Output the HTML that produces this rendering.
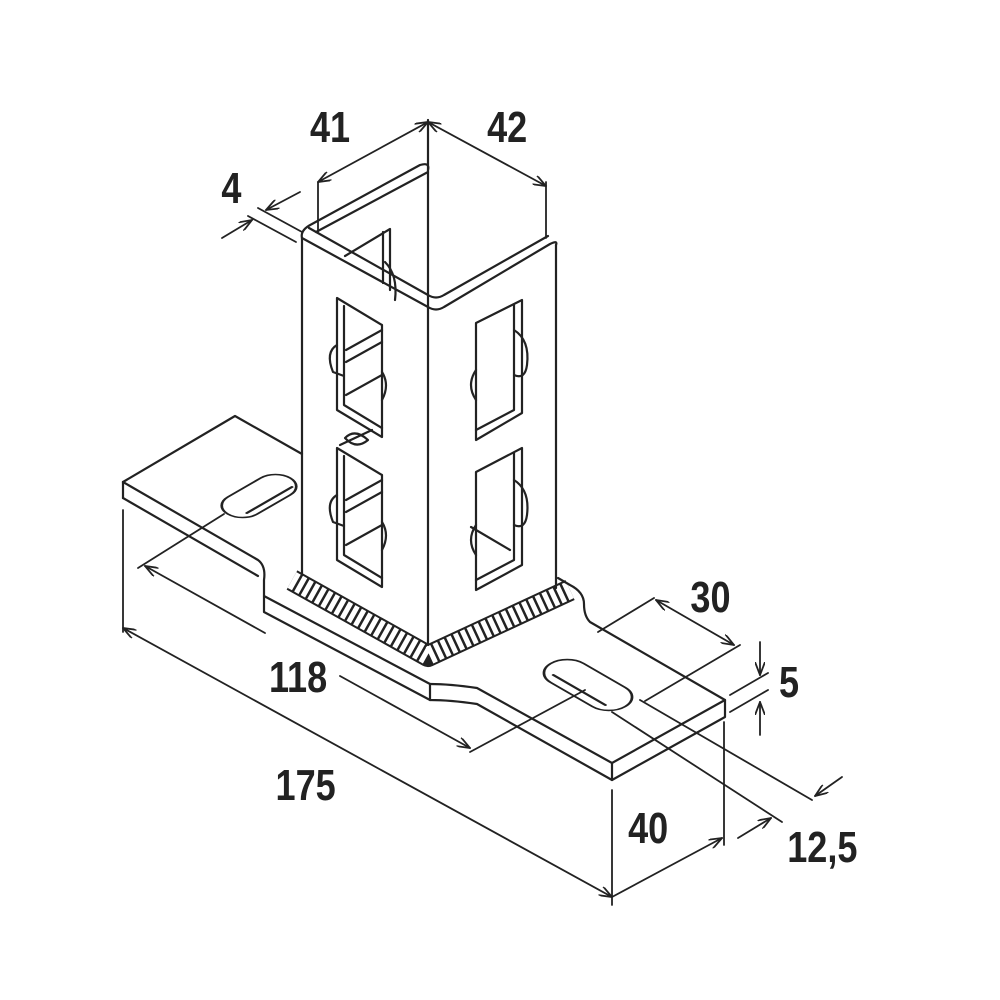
<!DOCTYPE html>
<html><head><meta charset="utf-8"><style>
html,body{margin:0;padding:0;background:#fff}
svg{display:block}
text{font-family:"Liberation Sans",sans-serif;font-weight:bold;font-size:44px;fill:#222}
</style></head><body>
<svg width="1000" height="1000" viewBox="0 0 1000 1000" xmlns="http://www.w3.org/2000/svg">
<defs>
<marker id="a" markerWidth="14" markerHeight="10" refX="13" refY="5" orient="auto-start-reverse" markerUnits="userSpaceOnUse">
<path d="M0,0 L13,5 L0,10" fill="none" stroke="#222" stroke-width="1.8"/>
</marker>
</defs>
<!-- weld bead -->
<path d="M292,580 L428,656 L570,590" fill="none" stroke="#222" stroke-width="22" stroke-linejoin="round"/>
<path d="M292,580 L428,656 L570,590" fill="none" stroke="#fff" stroke-width="18" stroke-dasharray="5 2.5" stroke-linejoin="round"/>
<g fill="none" stroke="#222" stroke-width="2.2" stroke-linejoin="round" stroke-linecap="round">
<!-- base plate -->
<path d="M123,482 L235,416 L302,454"/>
<path d="M123,482 L123,498"/>
<path d="M123,482 L258,560 Q266,566 264,580 L264,596 L430,684"/>
<path d="M123,498 L258,576"/>
<path d="M264,596 L264,612 L430,700"/>
<path d="M430,684 Q450,684 477,688 L612,763 L725,700 L590,622 Q584,616 584,604 Q584,592 570,585 L558,578"/>
<path d="M430,684 L430,700 Q450,700 477,704 L612,780 L725,717 L725,700"/>
<path d="M612,763 L612,780"/>
<!-- slots (isometric) -->
<g transform="matrix(0.866,-0.5,0.866,0.5,259,496)">
<rect x="-36" y="-17" width="72" height="34" rx="17" ry="17"/>
<path d="M-24,10 L28,10" stroke-width="2.6"/>
</g>
<g transform="matrix(0.866,-0.5,0.866,0.5,588,685)">
<rect x="-19" y="-43" width="38" height="86" rx="19" ry="19"/>
<path d="M-10,-30 L-10,30" stroke-width="2.6"/>
</g>
<!-- column -->
<path d="M302,238 L302,575"/>
<path d="M428,307 L428,645"/>
<path d="M556,245 L556,588"/>
<path d="M302,238 L428,307 Q436,312 444,307 L550,244 Q558,240 556,245"/>
<path d="M309,228 L428,295 Q436,300 444,295 L548,236"/>
<path d="M302,238 Q300,230 312,224 L420,165 Q430,162 428,170"/>
<path d="M316,232 L428,172"/>
<path d="M428,120 L428,307"/>
<!-- back window -->
<path d="M345,256 L390,229 L390,290"/>
<path d="M383,232 L383,283"/>
<path d="M385,262 Q398,275 395,300"/>
<!-- left face openings -->
<path d="M337,298 L382,325 L382,437 L337,410Z"/>
<path d="M344,306 L344,405 L382,428"/>
<path d="M337,345 Q325,352 333,372 L344,376"/>
<path d="M346,350 L382,330 M346,362 L382,342 M346,395 L382,375"/>
<path d="M382,372 Q390,385 382,400"/>
<path d="M337,448 L382,475 L382,587 L337,560Z"/>
<path d="M344,456 L344,555 L382,578"/>
<path d="M337,495 Q325,502 333,522 L344,526"/>
<path d="M346,500 L382,480 M346,512 L382,492 M346,545 L382,525"/>
<path d="M382,522 Q390,535 382,550"/>
<path d="M345,438 Q355,428 368,440 Q356,450 345,438Z M340,445 L372,430"/>
<!-- right face openings -->
<path d="M476,323 L522,300 L522,413 L476,440Z"/>
<path d="M476,430 L514,410 L514,305"/>
<path d="M514,330 Q530,340 527,365 Q525,380 514,375"/>
<path d="M476,370 Q466,385 476,400"/>
<path d="M476,472 L522,448 L522,565 L476,590Z"/>
<path d="M476,580 L514,560 L514,453"/>
<path d="M514,480 Q530,490 527,515 Q525,530 514,525"/>
<path d="M476,525 Q466,540 476,555 M471,527 L510,550"/>
<!-- dimensions -->
<g stroke-width="1.8">
<path d="M123,510 L123,632"/>
<path d="M612,790 L612,905"/>
<path d="M123,628 L612,897" marker-start="url(#a)" marker-end="url(#a)"/>
<path d="M224,514 L138,568"/>
<path d="M145,566 L265,633" marker-start="url(#a)"/>
<path d="M340,676 L470,748" marker-end="url(#a)"/>
<path d="M585,690 L470,752"/>
<path d="M598,632 L654,598"/>
<path d="M645,701 L740,645"/>
<path d="M656,600 L734,645" marker-start="url(#a)" marker-end="url(#a)"/>
<path d="M730,695 L768,673 M730,712 L768,690"/>
<path d="M760,642 L760,675" marker-end="url(#a)"/>
<path d="M760,735 L760,702" marker-end="url(#a)"/>
<path d="M724,722 L724,845"/>
<path d="M612,897 L722,838" marker-end="url(#a)"/>
<path d="M612,712 L782,822"/>
<path d="M640,700 L812,800"/>
<path d="M842,777 L815,796" marker-end="url(#a)"/>
<path d="M738,838 L771,818" marker-end="url(#a)"/>
<path d="M318,182 L318,232"/>
<path d="M318,182 L428,122" marker-start="url(#a)" marker-end="url(#a)"/>
<path d="M428,122 L546,186" marker-start="url(#a)" marker-end="url(#a)"/>
<path d="M546,182 L546,238"/>
<path d="M258,208 L302,232 M248,216 L296,242"/>
<path d="M300,192 L266,210" marker-end="url(#a)"/>
<path d="M222,238 L252,220" marker-end="url(#a)"/>
</g>
</g>
<g transform="scale(0.82,1)">
<text x="378" y="142">41</text>
<text x="594" y="142">42</text>
<text x="270" y="203">4</text>
<text x="328" y="692">118</text>
<text x="336" y="800">175</text>
<text x="842" y="612">30</text>
<text x="950" y="697">5</text>
<text x="766" y="843">40</text>
<text x="960" y="862">12,5</text>
</g>
</svg>
</body></html>
